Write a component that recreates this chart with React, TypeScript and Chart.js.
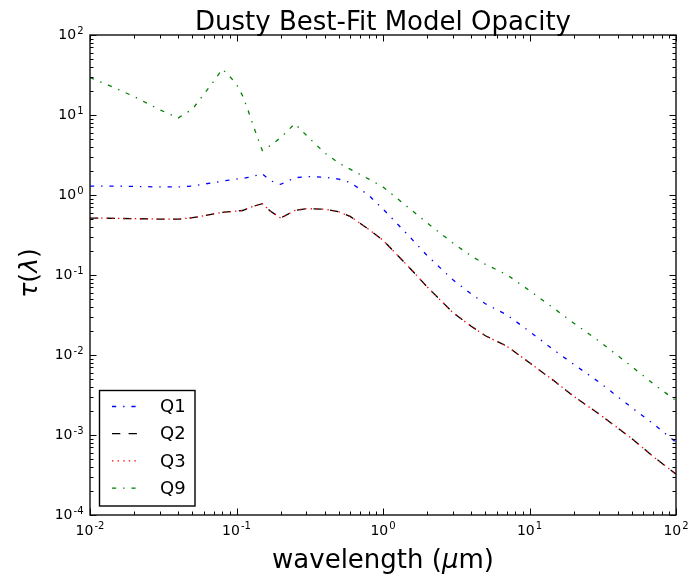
import React, { useEffect, useRef } from 'react';
import { Chart, registerables } from 'chart.js';

Chart.register(...registerables);

const FONT = '"DejaVu Sans", "Liberation Sans", sans-serif';

const chartTitle = 'Dusty Best-Fit Model Opacity';
const seriesLabels = ['Q1', 'Q2', 'Q3', 'Q9'];

// wavelength in micron
const wavelengths = [0.01, 0.015, 0.02, 0.03, 0.04, 0.05, 0.06, 0.07, 0.08, 0.09, 0.1, 0.11, 0.12, 0.13, 0.15, 0.17, 0.2, 0.25, 0.3, 0.4, 0.5, 0.6, 0.8, 1, 1.5, 2, 3, 4, 5, 7, 10, 15, 20, 30, 50, 70, 100];

const q1 = [1.29, 1.29, 1.28, 1.26, 1.26, 1.29, 1.37, 1.43, 1.49, 1.54, 1.58, 1.61, 1.66, 1.71, 1.84, 1.51, 1.36, 1.64, 1.70, 1.67, 1.58, 1.43, 0.99, 0.668, 0.309, 0.175, 0.087, 0.058, 0.0437, 0.0318, 0.0197, 0.0112, 0.00767, 0.00455, 0.00219, 0.00138, 0.000813];
const q2 = [0.515, 0.51, 0.506, 0.50, 0.499, 0.52, 0.552, 0.582, 0.605, 0.618, 0.63, 0.64, 0.68, 0.72, 0.78, 0.63, 0.515, 0.64, 0.676, 0.664, 0.617, 0.537, 0.372, 0.272, 0.126, 0.0711, 0.0339, 0.0229, 0.0174, 0.0129, 0.008, 0.00462, 0.00305, 0.00182, 0.000902, 0.000537, 0.000324];
const q3 = [0.515, 0.51, 0.506, 0.50, 0.499, 0.52, 0.552, 0.582, 0.605, 0.618, 0.63, 0.64, 0.68, 0.72, 0.78, 0.63, 0.515, 0.64, 0.676, 0.664, 0.617, 0.537, 0.372, 0.272, 0.126, 0.0711, 0.0339, 0.0229, 0.0174, 0.0129, 0.008, 0.00462, 0.00305, 0.00182, 0.000902, 0.000537, 0.000324];
const q9 = [29.4, 21.6, 17.0, 11.6, 9.2, 11.8, 18.3, 26.5, 37.5, 30.3, 24.2, 17.4, 11.4, 7.4, 3.6, 4.14, 5.2, 7.8, 5.57, 3.35, 2.5, 2.09, 1.58, 1.26, 0.69, 0.448, 0.251, 0.173, 0.136, 0.101, 0.0638, 0.0372, 0.0251, 0.0148, 0.00716, 0.00437, 0.00269];

// tick labels: base "10" with exponent
const xTickValues = [0.01, 0.1, 1, 10, 100];
const xTickExponents = ['-2', '-1', '0', '1', '2'];
const yTickValues = [0.0001, 0.001, 0.01, 0.1, 1, 10, 100];
const yTickExponents = ['-4', '-3', '-2', '-1', '0', '1', '2'];

const decoPlugin = {
  id: 'deco',
  afterDatasetsDraw(chart: any) {
    const { ctx, chartArea: a, scales } = chart;
    const xs = scales.x;
    const ys = scales.y;
    ctx.save();

    // tick marks (inside, all four sides)
    ctx.strokeStyle = '#000';
    ctx.lineWidth = 1;
    const MAJ = 6.5;
    const MIN = 3.5;
    for (let d = -2; d <= 2; d++) {
      for (let m = 1; m <= 9; m++) {
        const v = m * Math.pow(10, d);
        if (v > 100 * 1.0001) break;
        const px = Math.round(xs.getPixelForValue(v)) + 0.5;
        const L = m === 1 ? MAJ : MIN;
        ctx.beginPath();
        ctx.moveTo(px, a.bottom);
        ctx.lineTo(px, a.bottom - L);
        ctx.moveTo(px, a.top);
        ctx.lineTo(px, a.top + L);
        ctx.stroke();
      }
    }
    for (let d = -4; d <= 2; d++) {
      for (let m = 1; m <= 9; m++) {
        const v = m * Math.pow(10, d);
        if (v > 100 * 1.0001) break;
        const py = Math.round(ys.getPixelForValue(v)) + 0.5;
        const L = m === 1 ? MAJ : MIN;
        ctx.beginPath();
        ctx.moveTo(a.left, py);
        ctx.lineTo(a.left + L, py);
        ctx.moveTo(a.right, py);
        ctx.lineTo(a.right - L, py);
        ctx.stroke();
      }
    }

    // frame
    ctx.lineWidth = 1.4;
    ctx.strokeStyle = '#111';
    ctx.strokeRect(a.left, a.top, a.right - a.left, a.bottom - a.top);

    // tick labels
    const baseFont = `14px ${FONT}`;
    const expFont = `10px ${FONT}`;
    ctx.fillStyle = '#000';
    ctx.textBaseline = 'alphabetic';
    ctx.textAlign = 'left';
    xTickValues.forEach((v, i) => {
      const px = xs.getPixelForValue(v);
      ctx.font = baseFont;
      const wb = ctx.measureText('10').width;
      ctx.font = expFont;
      const we = ctx.measureText(xTickExponents[i]).width;
      const left = px - (wb + we + 1) / 2;
      ctx.font = baseFont;
      ctx.fillText('10', left, a.bottom + 19.5);
      ctx.font = expFont;
      ctx.fillText(xTickExponents[i], left + wb + 1, a.bottom + 13.5);
    });
    yTickValues.forEach((v, i) => {
      const py = ys.getPixelForValue(v);
      ctx.font = expFont;
      const we = ctx.measureText(yTickExponents[i]).width;
      ctx.font = baseFont;
      const wb = ctx.measureText('10').width;
      const right = a.left - 6.5;
      ctx.font = baseFont;
      ctx.fillText('10', right - we - 1 - wb, py + 4);
      ctx.font = expFont;
      ctx.fillText(yTickExponents[i], right - we, py - 1.5);
    });

    // legend
    const bx = a.left + 9.5;
    const by = a.bottom - 124.5;
    const bw = 95.5;
    const bh = 115.5;
    ctx.fillStyle = '#fff';
    ctx.fillRect(bx, by, bw, bh);
    ctx.lineWidth = 1.4;
    ctx.strokeStyle = '#000';
    ctx.strokeRect(bx, by, bw, bh);
    chart.data.datasets.forEach((ds: any, i: number) => {
      const ly = by + 16 + i * 27.2;
      ctx.beginPath();
      ctx.setLineDash(ds.borderDash || []);
      ctx.lineCap = 'butt';
      ctx.strokeStyle = ds.borderColor;
      ctx.lineWidth = ds.borderWidth;
      ctx.moveTo(bx + 12.5, ly);
      ctx.lineTo(bx + 39, ly);
      ctx.stroke();
      ctx.setLineDash([]);
      ctx.fillStyle = '#000';
      ctx.font = `18px ${FONT}`;
      ctx.textAlign = 'left';
      ctx.textBaseline = 'middle';
      ctx.fillText(ds.label, bx + 60.5, ly + 1);
    });

    // title
    const cx = (a.left + a.right) / 2;
    ctx.fillStyle = '#000';
    ctx.font = `26px ${FONT}`;
    ctx.textAlign = 'center';
    ctx.textBaseline = 'alphabetic';
    ctx.fillText(chartTitle, cx, 29.5);

    // x axis label: wavelength (μm) with italic μ
    const parts = [
      { t: 'wavelength (', f: `26px ${FONT}` },
      { t: 'μ', f: `italic 26px ${FONT}` },
      { t: 'm)', f: `26px ${FONT}` },
    ];
    let total = 0;
    parts.forEach((p) => { ctx.font = p.f; total += ctx.measureText(p.t).width; });
    let x0 = cx - total / 2;
    ctx.textAlign = 'left';
    parts.forEach((p) => {
      ctx.font = p.f;
      ctx.fillText(p.t, x0, 568);
      x0 += ctx.measureText(p.t).width;
    });

    // y axis label: τ(λ)
    const yparts = [
      { t: 'τ', f: `italic 25px ${FONT}` },
      { t: '(', f: `25px ${FONT}` },
      { t: 'λ', f: `italic 25px ${FONT}` },
      { t: ')', f: `25px ${FONT}` },
    ];
    ctx.save();
    ctx.translate(37, (a.top + a.bottom) / 2 - 2);
    ctx.rotate(-Math.PI / 2);
    let yt = 0;
    yparts.forEach((p) => { ctx.font = p.f; yt += ctx.measureText(p.t).width; });
    let y0 = -yt / 2;
    yparts.forEach((p) => {
      ctx.font = p.f;
      ctx.fillText(p.t, y0, 0);
      y0 += ctx.measureText(p.t).width;
    });
    ctx.restore();

    ctx.restore();
  },
};

export default function App() {
  const ref = useRef<HTMLCanvasElement | null>(null);

  useEffect(() => {
    if (!ref.current) return;
    const mk = (label: string, vals: number[], color: string, dash: number[], order: number) => ({
      label,
      data: wavelengths.map((w, i) => ({ x: w, y: vals[i] })),
      borderColor: color,
      backgroundColor: color,
      borderWidth: 1.3,
      borderDash: dash,
      borderCapStyle: 'butt',
      fill: false,
      pointRadius: 0,
      tension: 0,
      order,
    });
    const chart = new Chart(ref.current, {
      type: 'line',
      data: {
        datasets: [
          mk(seriesLabels[0], q1, '#0000ff', [4.2, 6.9, 1.4, 6.9], 4),
          mk(seriesLabels[1], q2, '#000000', [8.3, 8.3], 3),
          mk(seriesLabels[2], q3, '#ff0000', [1.4, 4.2], 2),
          mk(seriesLabels[3], q9, '#008000', [4.2, 6.9, 1.4, 6.9], 1),
        ] as any,
      },
      options: {
        responsive: false,
        animation: false,
        events: [],
        layout: { padding: { left: 0, right: 15, top: 35, bottom: 0 } },
        plugins: {
          legend: { display: false },
          tooltip: { enabled: false },
          title: { display: false },
        },
        scales: {
          x: {
            type: 'logarithmic',
            min: 0.01,
            max: 100,
            grid: { display: false },
            border: { display: false },
            afterBuildTicks: (s: any) => { s.ticks = xTickValues.map((v) => ({ value: v })); },
            afterFit: (s: any) => { s.height = 66; },
            ticks: { display: false },
          },
          y: {
            type: 'logarithmic',
            min: 0.0001,
            max: 100,
            grid: { display: false },
            border: { display: false },
            afterBuildTicks: (s: any) => { s.ticks = yTickValues.map((v) => ({ value: v })); },
            afterFit: (s: any) => { s.width = 90; },
            ticks: { display: false },
          },
        },
      } as any,
      plugins: [decoPlugin],
    });
    return () => chart.destroy();
  }, []);

  return (
    <div style={{ position: 'absolute', left: 0, top: 0, width: 691, height: 581, background: '#fff' }}>
      <canvas ref={ref} width={691} height={581} style={{ display: 'block' }} />
    </div>
  );
}
